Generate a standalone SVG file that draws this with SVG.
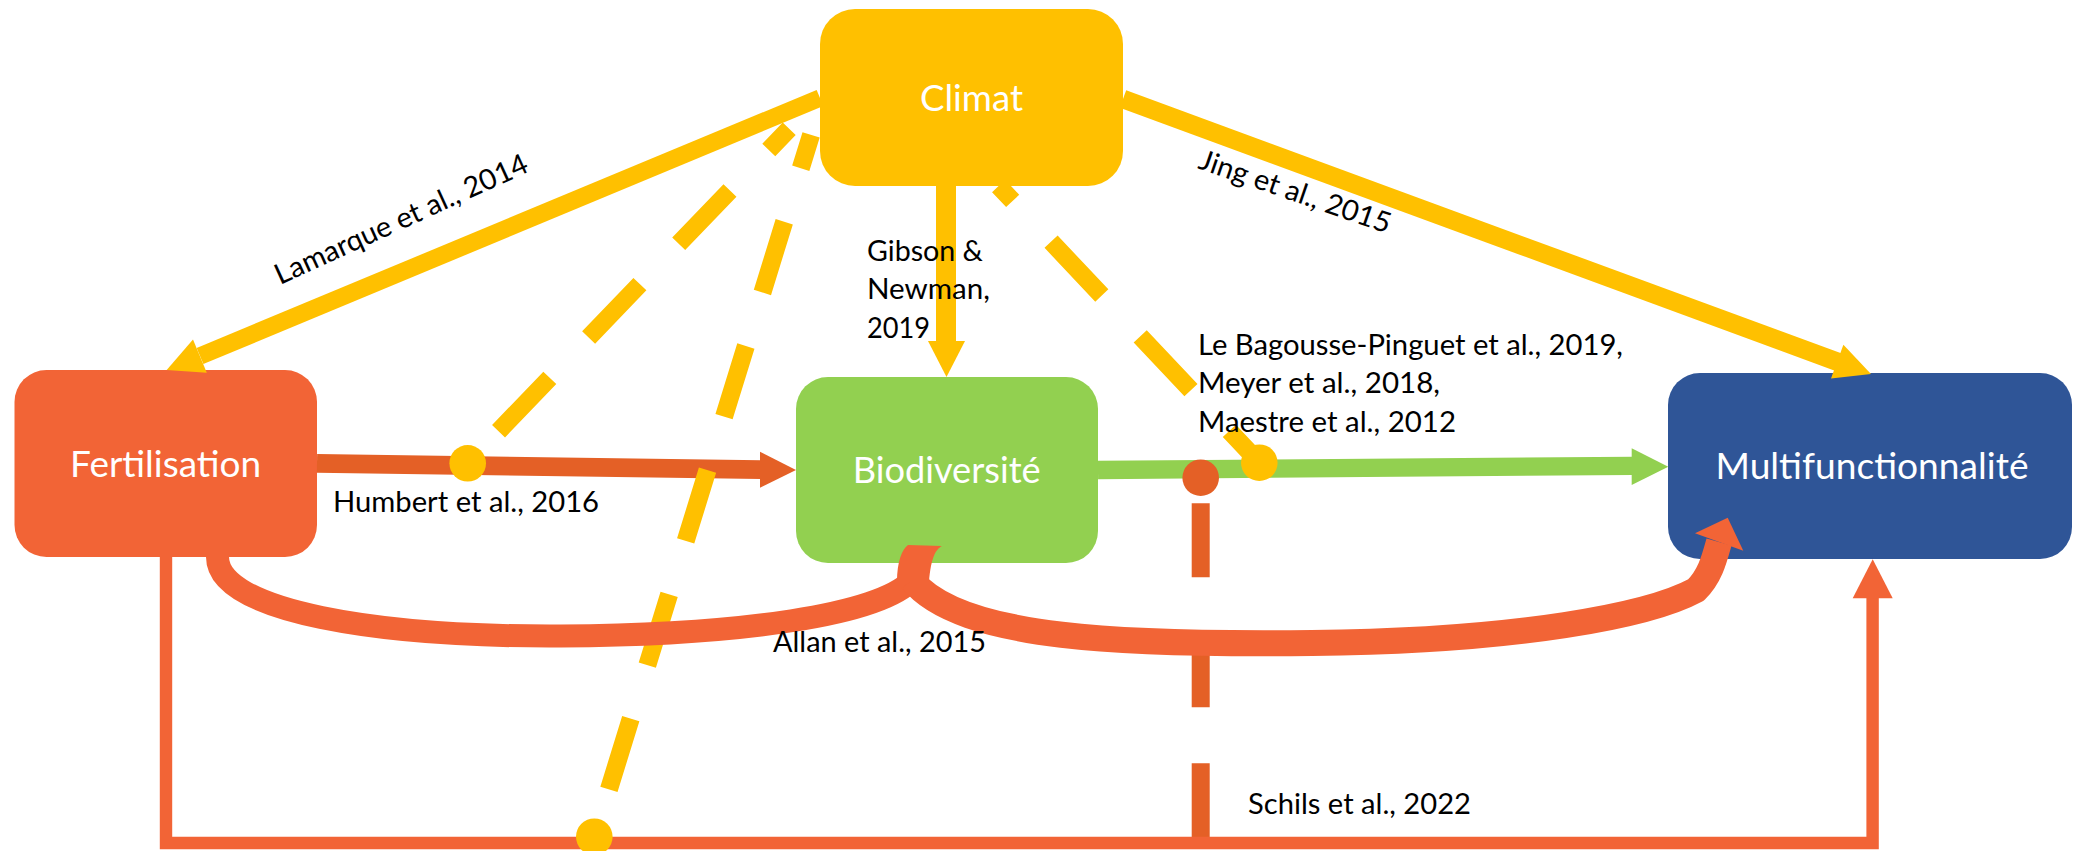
<svg xmlns="http://www.w3.org/2000/svg" width="2074" height="851" viewBox="0 0 2074 851">
  <style>
    .node-label { font-family: Lato, "Liberation Sans", sans-serif; font-size: 36px; fill: #FFFFFF; text-anchor: middle; }
    .lbl { font-family: Lato, "Liberation Sans", sans-serif; font-size: 28.5px; fill: #000000; }
    .yel { fill: none; stroke: #FFC000; }
    .yelf { fill: #FFC000; }
    .org { fill: none; stroke: #F26436; }
    .orgf { fill: #F26436; }
    .dorg { fill: none; stroke: #E46026; }
    .dorgf { fill: #E46026; }
    .grn { fill: none; stroke: #92D050; }
    .grnf { fill: #92D050; }
    .dash { stroke-dasharray: 74 56; stroke-width: 18; stroke-linecap: butt; }
  </style>
  <rect width="2074" height="851" fill="#FFFFFF"/>

  <g id="climat">
    <rect x="820" y="9" width="303" height="177" rx="35" ry="35" fill="#FFC000"/>
    <text class="node-label" x="971.5" y="111" textLength="103" lengthAdjust="spacingAndGlyphs">Climat</text>
  </g>
  <g id="fertilisation">
    <rect x="14.5" y="370" width="302.5" height="187" rx="32" ry="32" fill="#F26436"/>
    <text class="node-label" x="165.6" y="477" textLength="191" lengthAdjust="spacingAndGlyphs">Fertilisation</text>
  </g>
  <g id="biodiversite">
    <rect x="796" y="377" width="302" height="186" rx="32" ry="32" fill="#92D050"/>
    <text class="node-label" x="946.7" y="483" textLength="188" lengthAdjust="spacingAndGlyphs">Biodiversité</text>
  </g>
  <g id="multifunctionnalite">
    <rect x="1668" y="373" width="404" height="186" rx="32" ry="32" fill="#2F5597"/>
    <text class="node-label" x="1872" y="479" textLength="313" lengthAdjust="spacingAndGlyphs">Multifunctionnalité</text>
  </g>

  <g id="connectors">
    <!-- Climat -> Fertilisation -->
    <line class="yel" x1="820" y1="98" x2="200" y2="356" stroke-width="17.5"/>
    <polygon class="yelf" points="166.7,370 193,339.6 206.8,372.8"/>
    <!-- Climat -> Multifunctionnalite -->
    <line class="yel" x1="1123" y1="99" x2="1838" y2="362" stroke-width="18.5"/>
    <polygon class="yelf" points="1871,374 1843.4,344.7 1831,378.5"/>
    <!-- Climat -> Biodiversite -->
    <line class="yel" x1="946" y1="186" x2="946" y2="342" stroke-width="20"/>
    <polygon class="yelf" points="928,341 965,341 946.5,377"/>

    <!-- Fertilisation -> Biodiversite -->
    <line class="dorg" x1="317" y1="463.3" x2="761" y2="469.7" stroke-width="18.7"/>
    <polygon class="dorgf" points="760,451.7 796,470 760,487.7"/>

    <!-- Biodiversite -> Multifunctionnalite -->
    <line class="grn" x1="1098" y1="470" x2="1633" y2="465.8" stroke-width="18.3"/>
    <polygon class="grnf" points="1631.7,448.3 1668.3,466.7 1631.7,485"/>

    <!-- Schils: dashed orange vertical -->
    <line class="dorg dash" x1="1200.7" y1="477.7" x2="1200.7" y2="840" stroke-dashoffset="104.4"/>

    <!-- Fertilisation -> Multifunctionnalite bottom path -->
    <polyline class="org" points="166,557 166,843 1872.6,843 1872.6,596" stroke-width="12.4" stroke-linejoin="miter"/>
    <polygon class="orgf" points="1852.7,598.3 1892.7,598.3 1872.7,559.3"/>

    <!-- Climat dashed moderators -->
    <line class="yel dash" x1="467.7" y1="463.3" x2="789.2" y2="128.8" stroke-dashoffset="85.5"/>
    <line class="yel dash" x1="594.3" y1="836.7" x2="811.1" y2="134.8" stroke-dashoffset="80.4"/>
    <line class="yel dash" x1="998.6" y1="186" x2="1259.3" y2="462.7" stroke-dashoffset="53.5"/>

    <!-- Allan curves -->
    <path class="org" d="M 217.5,557 C 217.5,612 380,637 561,636 C 740,635 880,615 912,580" stroke-width="23"/>
    <path class="org" d="M 912,580 C 960,640 1130,645 1312,643 C 1520,641 1650,615 1696,590 C 1710,576 1714,560 1719,542" stroke-width="26"/>
    <path class="orgf" d="M 897,582 C 897,562 902,549 908,545 L 942,546 C 936,549 931,557 929,582 Z"/>
    <polygon class="orgf" points="1695,533.3 1727.7,517.7 1743.3,550.7"/>

    <!-- moderator dots -->
    <circle class="yelf" cx="467.7" cy="463.3" r="18.3"/>
    <circle class="yelf" cx="594.3" cy="836.7" r="18.3"/>
    <circle class="dorgf" cx="1200.7" cy="477.7" r="18.3"/>
    <circle class="yelf" cx="1259.3" cy="462.7" r="18.3"/>
  </g>

  <g id="labels">
    <text class="lbl" transform="translate(280,285) rotate(-24.5)" x="0" y="0" textLength="275" lengthAdjust="spacingAndGlyphs">Lamarque et al., 2014</text>
    <text class="lbl" transform="translate(1197,168) rotate(19)" x="0" y="0" textLength="201" lengthAdjust="spacingAndGlyphs">Jing et al., 2015</text>
    <text class="lbl" x="867" y="261" textLength="116" lengthAdjust="spacingAndGlyphs">Gibson &amp;</text>
    <text class="lbl" x="867" y="299" textLength="123" lengthAdjust="spacingAndGlyphs">Newman,</text>
    <text class="lbl" x="867" y="338" textLength="63" lengthAdjust="spacingAndGlyphs">2019</text>
    <text class="lbl" x="1198" y="355" textLength="425" lengthAdjust="spacingAndGlyphs">Le Bagousse-Pinguet et al., 2019,</text>
    <text class="lbl" x="1198" y="393" textLength="242" lengthAdjust="spacingAndGlyphs">Meyer et al., 2018,</text>
    <text class="lbl" x="1198" y="432" textLength="258" lengthAdjust="spacingAndGlyphs">Maestre et al., 2012</text>
    <text class="lbl" x="333" y="512" textLength="266" lengthAdjust="spacingAndGlyphs">Humbert et al., 2016</text>
    <text class="lbl" x="773" y="652" textLength="213" lengthAdjust="spacingAndGlyphs">Allan et al., 2015</text>
    <text class="lbl" x="1248" y="814" textLength="223" lengthAdjust="spacingAndGlyphs">Schils et al., 2022</text>
  </g>
</svg>
